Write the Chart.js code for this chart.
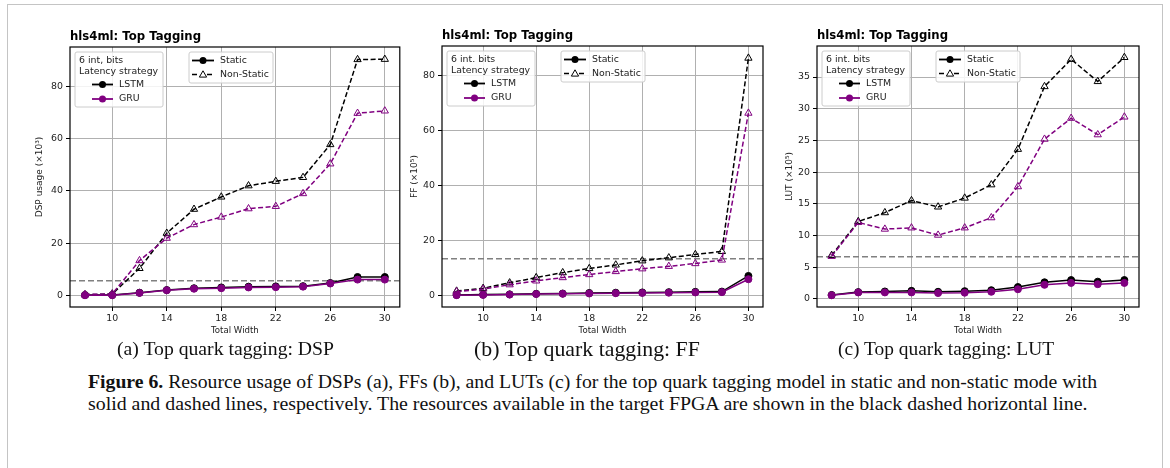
<!DOCTYPE html>
<html><head><meta charset="utf-8">
<script src="https://cdn.jsdelivr.net/npm/chart.js@4/dist/chart.umd.min.js"></script>
<style>
html,body{margin:0;padding:0;background:#fff;width:1170px;height:468px;overflow:hidden;position:relative;}
#frame{position:absolute;left:7px;top:4px;width:1156px;height:480px;border:1.5px solid #c4c4c4;box-sizing:border-box;}
canvas{position:absolute;top:0;}
.txt{position:absolute;white-space:nowrap;font-family:"Liberation Serif","Times New Roman",serif;color:#111;line-height:1;}
</style></head><body>
<div id="frame"></div>
<canvas id="c1" width="395" height="345" style="left:10px"></canvas>
<canvas id="c2" width="370" height="345" style="left:400px"></canvas>
<canvas id="c3" width="390" height="345" style="left:775px"></canvas>
<div class="txt sub" id="s1" data-w="217" style="left:117px;top:339px">(a) Top quark tagging: DSP</div>
<div class="txt sub" id="s2" data-w="226" style="left:474px;top:339px">(b) Top quark tagging: FF</div>
<div class="txt sub" id="s3" data-w="216" style="left:838px;top:339px">(c) Top quark tagging: LUT</div>
<div class="txt cap" id="l1" data-w="1010" style="left:88px;top:372px"><b>Figure 6.</b> Resource usage of DSPs (a), FFs (b), and LUTs (c) for the top quark tagging model in static and non-static mode with</div>
<div class="txt cap" id="l2" data-w="1000" style="left:88px;top:394px">solid and dashed lines, respectively. The resources available in the target FPGA are shown in the black dashed horizontal line.</div>
<script>
// ---- data ----
const xVals = [8,10,12,14,16,18,20,22,24,26,28,30];
const xTicks = [10,14,18,22,26,30];

const dspLstmStatic = [0.1,0.1,1.0,2.0,2.7,3.0,3.3,3.4,3.5,4.7,7.0,7.0];
const dspGruStatic  = [0.0,0.0,0.9,1.9,2.5,2.7,3.0,3.1,3.3,4.5,6.0,6.0];
const dspLstmNS     = [0.2,0.5,10.3,23.8,33.0,37.7,42.0,43.7,45.2,57.8,90.4,90.5];
const dspGruNS      = [0.3,0.5,13.3,21.9,27.1,30.0,33.2,34.1,39.0,50.4,69.8,70.7];
const dspLimit = 5.52;
const dspTicks = [0,20,40,60,80];

const ffLstmStatic = [0.1,0.2,0.3,0.5,0.6,0.8,0.9,1.0,1.1,1.2,1.3,7.0];
const ffGruStatic  = [0.0,0.1,0.2,0.4,0.5,0.6,0.7,0.8,0.9,1.0,1.1,5.8];
const ffLstmNS     = [1.5,2.5,4.5,6.4,8.2,9.7,11.0,12.5,13.6,14.8,15.9,86.2];
const ffGruNS      = [1.3,2.2,3.8,5.2,6.4,7.5,8.6,9.6,10.5,11.5,12.8,66.2];
const ffLimit = 13.2;
const ffTicks = [0,20,40,60,80];

const lutLstmStatic = [0.6,1.05,1.15,1.25,1.1,1.2,1.35,1.85,2.6,2.95,2.7,2.95];
const lutGruStatic  = [0.55,1.0,1.0,1.0,0.9,0.95,1.1,1.5,2.2,2.5,2.3,2.5];
const lutLstmNS     = [6.85,12.2,13.6,15.5,14.5,15.9,18.0,23.6,33.5,37.8,34.3,38.1];
const lutGruNS      = [6.7,12.05,11.0,11.2,10.05,11.2,12.8,17.7,25.2,28.5,25.9,28.7];
const lutLimit = 6.63;
const lutTicks = [0,5,10,15,20,25,30,35];

const BLACK = '#000000', PURPLE = '#800080', GRAY = '#808080';

// ---- fit captions ----
document.querySelectorAll('.txt').forEach(el=>{
  const base = el.classList.contains('sub') ? 18 : 16;
  el.style.fontSize = base+'px';
  const w = el.getBoundingClientRect().width;
  el.style.fontSize = (base*(+el.dataset.w)/w).toFixed(2)+'px';
});

function series(vals, color, dashed){
  return {
    data: xVals.map((x,i)=>({x:x,y:vals[i]})),
    borderColor: color, backgroundColor: color, borderWidth: 1.5,
    borderDash: dashed ? [5,2.5] : [],
    pointStyle: dashed ? 'triangle' : 'circle',
    pointRadius: dashed ? 4.2 : 3.5,
    pointBorderWidth: 1,
    pointBackgroundColor: dashed ? 'rgba(0,0,0,0)' : color,
    pointBorderColor: color, tension: 0, fill: false
  };
}

function limitLine(v, xmin, xmax){
  return {data:[{x:xmin,y:v},{x:xmax,y:v}], borderColor: GRAY, borderWidth:1.5,
    borderDash:[6,3], pointRadius:0, fill:false};
}

function drawTri(ctx, x, y, r, color){
  ctx.beginPath();
  ctx.moveTo(x, y - r);
  ctx.lineTo(x + r*0.866, y + r*0.5);
  ctx.lineTo(x - r*0.866, y + r*0.5);
  ctx.closePath();
  ctx.strokeStyle = color; ctx.lineWidth = 1; ctx.setLineDash([]); ctx.stroke();
}
function roundRect(ctx,x,y,w,h,r){
  ctx.beginPath();
  ctx.moveTo(x+r,y); ctx.lineTo(x+w-r,y); ctx.quadraticCurveTo(x+w,y,x+w,y+r);
  ctx.lineTo(x+w,y+h-r); ctx.quadraticCurveTo(x+w,y+h,x+w-r,y+h);
  ctx.lineTo(x+r,y+h); ctx.quadraticCurveTo(x,y+h,x,y+h-r);
  ctx.lineTo(x,y+r); ctx.quadraticCurveTo(x,y,x+r,y); ctx.closePath();
}

const decor = {
  id:'decor',
  afterDraw(chart){
    const o = chart.options.plugins.decor;
    const ctx = chart.ctx, a = chart.chartArea;
    ctx.save();
    // spines
    ctx.strokeStyle = '#000'; ctx.lineWidth = 1.2; ctx.setLineDash([]);
    ctx.strokeRect(a.left, a.top, a.right-a.left, a.bottom-a.top);
    // title
    let fs = 11;
    ctx.font = 'bold '+fs+'px "DejaVu Sans"';
    fs = fs*131/ctx.measureText('hls4ml: Top Tagging').width;
    ctx.font = 'bold '+fs.toFixed(2)+'px "DejaVu Sans"';
    ctx.fillStyle = '#000'; ctx.textBaseline = 'middle'; ctx.textAlign = 'left';
    ctx.fillText('hls4ml: Top Tagging', a.left, a.top - 10);
    // axis labels
    ctx.font = '8.6px "DejaVu Sans"'; ctx.fillStyle = '#222';
    ctx.textAlign = 'center';
    ctx.fillText('Total Width', (a.left+a.right)/2, 331);
    ctx.font = '9px "DejaVu Sans"';
    ctx.save();
    ctx.translate(o.ylabX, (a.top+a.bottom)/2);
    ctx.rotate(-Math.PI/2);
    ctx.fillText(o.ylabel, 0, 0);
    ctx.restore();
    // legend A
    ctx.font = '9.4px "DejaVu Sans"';
    const ax = a.left + 5, ay = a.top + 5;
    ctx.fillStyle = 'rgba(255,255,255,0.85)'; ctx.strokeStyle = '#cccccc'; ctx.lineWidth = 1;
    roundRect(ctx, ax, ay, 88, 55, 2); ctx.fill(); ctx.stroke();
    ctx.fillStyle = '#222'; ctx.textAlign = 'left';
    ctx.fillText(o.bitsText, ax+4, ay+8.5);
    ctx.fillText('Latency strategy', ax+4, ay+19.5);
    [['LSTM',BLACK,32.5],['GRU',PURPLE,47]].forEach(([t,c,dy])=>{
      ctx.strokeStyle = c; ctx.lineWidth = 1.8; ctx.setLineDash([]);
      ctx.beginPath(); ctx.moveTo(ax+17, ay+dy); ctx.lineTo(ax+38, ay+dy); ctx.stroke();
      ctx.fillStyle = c; ctx.beginPath(); ctx.arc(ax+27.5, ay+dy, 3.5, 0, Math.PI*2); ctx.fill();
      ctx.fillStyle = '#222'; ctx.fillText(t, ax+44, ay+dy);
    });
    // legend B
    const bx = a.left + 119, by = a.top + 5;
    ctx.fillStyle = 'rgba(255,255,255,0.85)'; ctx.strokeStyle = '#cccccc'; ctx.lineWidth = 1;
    roundRect(ctx, bx, by, 84, 31, 2); ctx.fill(); ctx.stroke();
    ctx.strokeStyle = '#000'; ctx.lineWidth = 1.8;
    ctx.beginPath(); ctx.moveTo(bx+3, by+8.5); ctx.lineTo(bx+25, by+8.5); ctx.stroke();
    ctx.fillStyle = '#000'; ctx.beginPath(); ctx.arc(bx+14, by+8.5, 3.5, 0, Math.PI*2); ctx.fill();
    ctx.setLineDash([5,2.5]); ctx.lineWidth = 1.5;
    ctx.beginPath(); ctx.moveTo(bx+3, by+22.5); ctx.lineTo(bx+25, by+22.5); ctx.stroke();
    ctx.setLineDash([]);
    ctx.fillStyle = '#fff'; ctx.beginPath(); ctx.arc(bx+14, by+22.5, 4, 0, Math.PI*2); ctx.fill();
    drawTri(ctx, bx+14, by+23, 4.2, '#000');
    ctx.fillStyle = '#222';
    ctx.fillText('Static', bx+31, by+8.5);
    ctx.fillText('Non-Static', bx+31, by+22.5);
    ctx.restore();
  }
};

function makeChart(id, cfg){
  const xmin = 6.9, xmax = 31.1;
  const tickFont = {family:'DejaVu Sans', size:9.4};
  new Chart(document.getElementById(id), {
    type:'line',
    data:{datasets:[
      series(cfg.gruNS, PURPLE, true),
      series(cfg.gruS, PURPLE, false),
      series(cfg.lstmNS, BLACK, true),
      series(cfg.lstmS, BLACK, false),
      limitLine(cfg.limit, xmin, xmax)
    ]},
    options:{
      responsive:false, animation:false, devicePixelRatio:1,
      layout:{padding:{left:0, right:cfg.padR, top:cfg.padT, bottom:0}},
      plugins:{legend:{display:false}, tooltip:{enabled:false},
        decor:{ylabel:cfg.ylabel, ylabX:cfg.ylabX, bitsText:cfg.bits}},
      scales:{
        x:{type:'linear', min:xmin, max:xmax,
          afterBuildTicks:(s)=>{s.ticks = xTicks.map(v=>({value:v}));},
          afterFit:(s)=>{s.height = 38;},
          ticks:{font:tickFont, color:'#222', padding:2, maxRotation:0, autoSkip:false},
          grid:{color:'#b0b0b0', lineWidth:1, tickColor:'#000', tickLength:4},
          border:{display:false}},
        y:{type:'linear', min:cfg.ymin, max:cfg.ymax,
          afterBuildTicks:(s)=>{s.ticks = cfg.yTicks.map(v=>({value:v}));},
          afterFit:(s)=>{s.width = cfg.yw;},
          ticks:{font:tickFont, color:'#222', padding:3, autoSkip:false},
          grid:{color:'#b0b0b0', lineWidth:1, tickColor:'#000', tickLength:4},
          border:{display:false}}
      }
    },
    plugins:[decor]
  });
}

makeChart('c1',{gruNS:dspGruNS, gruS:dspGruStatic, lstmNS:dspLstmNS, lstmS:dspLstmStatic,
  limit:dspLimit, yTicks:dspTicks, ymin:-4.5, ymax:95.2, yw:60, padR:5, padT:47,
  ylabel:'DSP usage (×10³)', ylabX:30, bits:'6 int, bits'});
makeChart('c2',{gruNS:ffGruNS, gruS:ffGruStatic, lstmNS:ffLstmNS, lstmS:ffLstmStatic,
  limit:ffLimit, yTicks:ffTicks, ymin:-4.3, ymax:90.6, yw:42, padR:7, padT:46,
  ylabel:'FF (×10⁵)', ylabX:15, bits:'6 int. bits'});
makeChart('c3',{gruNS:lutGruNS, gruS:lutGruStatic, lstmNS:lutLstmNS, lstmS:lutLstmStatic,
  limit:lutLimit, yTicks:lutTicks, ymin:-1.3, ymax:39.9, yw:42, padR:26, padT:46,
  ylabel:'LUT (×10⁵)', ylabX:15, bits:'6 int. bits'});
</script>
</body></html>
